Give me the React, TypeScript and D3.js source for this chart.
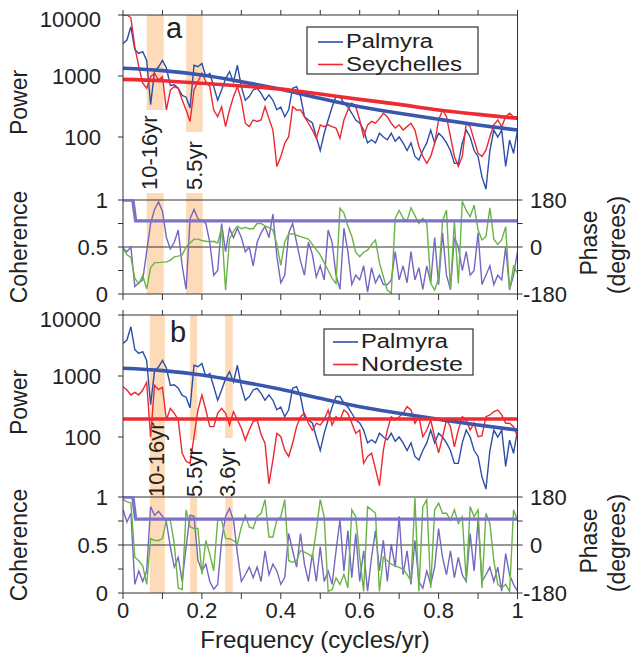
import React from 'react';
import * as d3 from 'd3';

// frequency grid of the spectra (cycles/yr)
const freq = d3.range(0, 101).map((i) => i / 100);
const fitFreq = [0, 0.1, 0.2, 0.3, 0.4, 0.5, 0.6, 0.7, 0.8, 0.9, 1.0];
const flatFitFreq = [0, 1];

// power spectra
const palmyraPower = [
  3430, 3890, 6400, 2700, 2350, 2500, 1800, 340, 1200, 1400,
  1800, 1350, 700, 720, 630, 480, 450, 300, 1500, 1420,
  1600, 975, 1100, 670, 400, 590, 900, 1180, 800, 1500,
  670, 400, 460, 590, 630, 520, 400, 490, 400, 280,
  310, 215, 280, 630, 670, 460, 215, 190, 170, 100,
  60, 115, 190, 310, 460, 460, 360, 310, 245, 190,
  170, 130, 80, 90, 80, 115, 100, 90, 115, 85,
  100, 80, 60, 80, 48, 42, 60, 80, 130, 80,
  115, 100, 80, 60, 37, 37, 80, 130, 100, 60,
  48, 22, 14, 60, 130, 100, 130, 33, 89, 54,
  130,
];
const seychellesPower = [
  10000, 10000, 9000, 3000, 1420, 760, 630, 975, 1110, 860,
  975, 277, 589, 670, 630, 405, 277, 180, 590, 810,
  1110, 810, 670, 277, 215, 314, 148, 277, 459, 670,
  405, 168, 148, 190, 180, 190, 314, 200, 130, 33,
  48, 79, 101, 314, 277, 277, 215, 168, 130, 95,
  158, 148, 158, 148, 140, 95, 190, 277, 360, 314,
  190, 101, 158, 180, 168, 200, 245, 215, 168, 140,
  158, 130, 148, 168, 130, 70, 48, 37, 48, 79,
  190, 277, 215, 101, 48, 33, 48, 168, 148, 89,
  54, 48, 61, 101, 158, 190, 148, 215, 245, 215,
  215,
];
const nordestePower = [
  668, 589, 489, 540, 489, 589, 790, 100, 700, 600,
  650, 190, 295, 245, 190, 54, 40, 37, 101, 277,
  489, 277, 148, 148, 245, 295, 245, 158, 260, 190,
  140, 89, 130, 180, 190, 110, 79, 17, 42, 115,
  101, 61, 48, 79, 148, 215, 245, 168, 130, 168,
  158, 190, 277, 158, 215, 190, 277, 245, 168, 115,
  130, 37, 48, 54, 30, 16, 61, 130, 215, 190,
  215, 245, 314, 277, 168, 215, 101, 130, 190, 100,
  55, 100, 190, 148, 69, 130, 215, 190, 130, 168,
  101, 105, 215, 230, 260, 277, 230, 168, 168, 148,
  101,
];

// smooth fits
const palmyraFit = [1337, 1223, 1038, 807, 604, 431, 314, 245, 195, 157, 130];
const seychellesFit = [881, 838, 760, 686, 612, 507, 414, 343, 277, 235, 202];
const nordesteFit = [197, 197];

// coherence and phase
const coherenceA = [
  0.49, 0.45, 0.5, 0.08, 0.12, 0.15, 0.45, 0.75, 0.9, 0.98,
  0.88, 0.6, 0.48, 0.55, 0.68, 0.3, 0.05, 0.8, 0.9, 0.8,
  0.78, 0.75, 0.55, 0.2, 0.25, 0.75, 0.45, 0.7, 0.6, 0.7,
  0.6, 0.45, 0.5, 0.3, 0.55, 0.65, 0.72, 0.6, 0.85, 0.4,
  0.12, 0.2, 0.65, 0.75, 0.55, 0.35, 0.2, 0.55, 0.42, 0.18,
  0.3, 0.15, 0.68, 0.55, 0.2, 0.05, 0.7, 0.45, 0.1, 0.2,
  0.15, 0.3, 0.02, 0.28, 0.12, 0.2, 0.1, 0.1, 0.15, 0.45,
  0.15, 0.3, 0.12, 0.45, 0.15, 0.28, 0.05, 0.3, 0.12, 0.6,
  0.1, 0.65, 0.2, 0.05, 0.6, 0.5, 0.25, 0.45, 0.2, 0.25,
  0.65, 0.1, 0.2, 0.3, 0.1, 0.2, 0.15, 0.5, 0.05, 0.2,
  0.45,
];
const phaseA = [
  -5, -30, -40, -120, -140, -110, -160, -80, -60, -60,
  -58, -58, -50, -38, -35, -30, 0, 15, 30, 30,
  25, 22, 20, 22, 15, 75, -165, 30, 60, 80,
  70, 75, 70, 70, 90, 90, 80, 75, 65, 10,
  -70, 20, 50, 50, 45, 40, 35, 30, 10, -10,
  -30, -60, -90, -120, -140, 148, 130, 80, 40, -20,
  -37, -20, -12, 10, 27, -60, -114, -165, -177, 110,
  140, 110, 100, 150, 120, 90, 110, 91, -139, -165,
  -120, 100, 142, -165, 100, -140, 175, 140, 116, 160,
  65, 27, 40, 150, 30, 10, 27, 78, -165, -75,
  -100,
];
const coherenceB = [
  0.87, 0.74, 0.83, 0.09, 0.23, 0.12, 0.23, 0.9, 0.81, 0.85,
  0.8, 0.74, 0.48, 0.27, 0.37, 0.12, 0.48, 0.81, 0.8, 0.34,
  0.23, 0.3, 0.12, 0.04, 0.09, 0.55, 0.8, 0.88, 0.76, 0.41,
  0.12, 0.19, 0.27, 0.16, 0.27, 0.12, 0.44, 0.19, 0.3, 0.23,
  0.09, 0.16, 0.62, 0.44, 0.27, 0.62, 0.3, 0.12, 0.41, 0.12,
  0.48, 0.12, 0.23, 0.09, 0.44, 0.76, 0.23, 0.65, 0.16, 0.62,
  0.12, 0.44, 0.02, 0.37, 0.65, 0.23, 0.55, 0.12, 0.51, 0.27,
  0.8, 0.19, 0.44, 0.09, 0.55, 0.12, 0.05, 0.23, 0.09, 0.27,
  0.67, 0.37, 0.19, 0.44, 0.16, 0.37, 0.19, 0.12, 0.62, 0.23,
  0.76, 0.12, 0.19, 0.27, 0.12, 0.27, 0.02, 0.41, 0.19, 0.09,
  0.02,
];
const phaseB = [
  170, 163, 157, -46, -59, -78, -148, 24, 17, 17,
  24, 93, 93, 4, -161, -167, 132, 68, 62, 62,
  -110, 17, -34, -97, 93, 93, 24, 24, 17, 4,
  68, 112, 68, 62, 106, 119, 170, 30, 30, 93,
  106, 170, -59, -65, -59, -21, -27, -34, -46, 55,
  170, 106, -174, -167, -123, -148, -110, -161, 132, 106,
  -46, -174, 144, 132, 119, -174, -46, -59, -72, -78,
  -84, -91, -110, -135, 176, -174, 144, 170, -161, 132,
  157, 119, 119, 93, 132, 81, 106, -135, 144, 106,
  132, -161, 119, 81, -59, -148, -161, -148, -174, 132,
  93,
];

// 95% significance level of coherence
const sigFreq = [0, 0.025, 0.032, 1];
const sigA = [1, 1, 0.778, 0.778];
const sigB = [1, 1, 0.77, 0.77];

// highlighted period bands (cycles/yr)
const bandStartA = [0.06, 0.16];
const bandEndA = [0.103, 0.202];
const bandLabelsA = ['10-16yr', '5.5yr'];
const bandStartB = [0.068, 0.17, 0.259];
const bandEndB = [0.106, 0.188, 0.278];
const bandLabelsB = ['10-16yr', '5.5yr', '3.6yr'];

const FONT = "'Liberation Sans', Arial, Helvetica, sans-serif";
const BLUE = '#2d4ea8';
const RED = '#ec2830';
const PURPLE = '#7467c0';
const GREEN = '#6ab446';
const BAND = '#fddbb9';
const AXIS = '#333';

const x = d3.scaleLinear().domain([0, 1]).range([123, 517.5]);

const Panel = ({ id, pTop, pBot, cTop, cBot, spectra, fits, names, legend, letter, coh, phase, sig, bands, labels }) => {
  const yP = d3.scaleLog().domain([10, 10000]).range([pBot, pTop]);
  const yC = d3.scaleLinear().domain([0, 1]).range([cBot, cTop]);
  const yPh = d3.scaleLinear().domain([-180, 180]).range([cBot, cTop]);
  const x0 = x(0);
  const x1 = x(1);

  const powerLine = d3
    .line<number>()
    .x((_, i) => x(freq[i]))
    .y((d) => yP(d));
  const cohLine = d3
    .line<number>()
    .x((_, i) => x(freq[i]))
    .y((d) => yC(d));
  const phaseLine = d3
    .line<number>()
    .x((_, i) => x(freq[i]))
    .y((d) => yPh(d));

  const xTicks = x.ticks(10);

  return (
    <g>
      <defs>
        <clipPath id={`${id}-p`}>
          <rect x={x0} y={pTop} width={x1 - x0} height={cTop - pTop} />
        </clipPath>
        <clipPath id={`${id}-c`}>
          <rect x={x0} y={cTop - 1} width={x1 - x0} height={cBot - cTop + 2} />
        </clipPath>
      </defs>

      {/* bands */}
      {bands.map((b, i) => {
        const bx = x(b.f0);
        const bw = x(b.f1) - x(b.f0);
        return b.gap ? (
          <g key={i}>
            <rect x={bx} y={pTop} width={bw} height={b.gap[0] - pTop} fill={BAND} />
            <rect x={bx} y={b.gap[1]} width={bw} height={cBot - b.gap[1]} fill={BAND} />
          </g>
        ) : (
          <rect key={i} x={bx} y={pTop} width={bw} height={cBot - pTop} fill={BAND} />
        );
      })}

      {/* coherence grid */}
      <line x1={x0} x2={x1} y1={yC(1)} y2={yC(1)} stroke={AXIS} strokeWidth={1} />
      <line x1={x0} x2={x1} y1={yC(0.5)} y2={yC(0.5)} stroke={AXIS} strokeWidth={1} />

      {/* power spectra */}
      <g clipPath={`url(#${id}-p)`} fill="none">
        <path d={powerLine(spectra[0])} stroke={BLUE} strokeWidth={1.4} />
        <path d={powerLine(spectra[1])} stroke={RED} strokeWidth={1.4} />
        {fits.map((f, i) => (
          <path
            key={i}
            d={d3
              .line<number>()
              .x((_, j) => x(f.freq[j]))
              .y((d) => yP(d))
              .curve(d3.curveMonotoneX)(f.values)}
            stroke={i === 0 ? '#3957ad' : '#ee2b33'}
            strokeWidth={3.6}
          />
        ))}
      </g>

      {/* coherence and phase */}
      <g clipPath={`url(#${id}-c)`} fill="none">
        <path d={cohLine(coh)} stroke={PURPLE} strokeWidth={1.4} />
        <path d={phaseLine(phase)} stroke={GREEN} strokeWidth={1.4} />
        <path
          d={d3
            .line<number>()
            .x((_, j) => x(sigFreq[j]))
            .y((d) => yC(d))(sig)}
          stroke="#7c72c6"
          strokeWidth={3.4}
        />
      </g>

      {/* frame */}
      <line x1={x0} x2={x1} y1={pTop} y2={pTop} stroke={AXIS} strokeWidth={1} />
      <line x1={x0} x2={x1} y1={cBot} y2={cBot} stroke={AXIS} strokeWidth={1} />
      <line x1={x0} x2={x0} y1={pTop} y2={cBot} stroke={AXIS} strokeWidth={1} />
      <line x1={x1} x2={x1} y1={pTop} y2={cBot} stroke={AXIS} strokeWidth={1} />

      {xTicks.map((t) => (
        <g key={t}>
          <line x1={x(t)} x2={x(t)} y1={pTop - 5} y2={pTop} stroke={AXIS} />
          <line x1={x(t)} x2={x(t)} y1={cBot} y2={cBot + 6} stroke={AXIS} />
        </g>
      ))}

      {/* left axis: power */}
      {[100, 1000, 10000].map((v) => (
        <g key={v}>
          <line x1={x0 - 5} x2={x0} y1={yP(v)} y2={yP(v)} stroke={AXIS} />
          <text
            x={101}
            y={yP(v) + (v === 10000 ? 12 : 8)}
            textAnchor="end"
            fontSize={22}
            fontFamily={FONT}
            fill="#222"
          >
            {v}
          </text>
        </g>
      ))}

      {/* left axis: coherence */}
      {[0, 0.25, 0.5, 0.75, 1].map((v) => (
        <line key={v} x1={x0 - 5} x2={x0} y1={yC(v)} y2={yC(v)} stroke={AXIS} />
      ))}
      {[0, 0.5, 1].map((v) => (
        <text key={v} x={108} y={yC(v) + 8} textAnchor="end" fontSize={22} fontFamily={FONT} fill="#222">
          {v}
        </text>
      ))}

      {/* right axis: phase */}
      {[-180, -90, 0, 90, 180].map((v) => (
        <line key={v} x1={x1} x2={x1 + 5} y1={yPh(v)} y2={yPh(v)} stroke={AXIS} />
      ))}
      {[-180, 0, 180].map((v) => (
        <text
          key={v}
          x={v < 0 ? 523 : 530}
          y={yPh(v) + 8}
          fontSize={22}
          fontFamily={FONT}
          fill="#222"
        >
          {v}
        </text>
      ))}

      {/* axis titles */}
      <text
        transform={`translate(27,${(pTop + pBot) / 2 - 4}) rotate(-90)`}
        textAnchor="middle"
        fontSize={23}
        fontFamily={FONT}
        fill="#222"
      >
        Power
      </text>
      <text
        transform={`translate(27,${(cTop + cBot) / 2}) rotate(-90)`}
        textAnchor="middle"
        fontSize={23}
        fontFamily={FONT}
        fill="#222"
      >
        Coherence
      </text>
      <text
        transform={`translate(597,${(cTop + cBot) / 2 - 4}) rotate(-90)`}
        textAnchor="middle"
        fontSize={23}
        fontFamily={FONT}
        fill="#222"
      >
        Phase
      </text>
      <text
        transform={`translate(625,${(cTop + cBot) / 2 - 2}) rotate(-90)`}
        textAnchor="middle"
        fontSize={23}
        fontFamily={FONT}
        fill="#222"
      >
        (degrees)
      </text>

      {/* band labels */}
      {labels.map((l, i) => (
        <text
          key={i}
          transform={`translate(${x(l.f)},${l.y}) rotate(-90)`}
          fontSize={22}
          fontFamily={FONT}
          fill="#222"
        >
          {l.text}
        </text>
      ))}

      {/* panel letter */}
      <text x={letter.x} y={letter.y} fontSize={29} fontFamily={FONT} fill="#222">
        {letter.text}
      </text>

      {/* legend */}
      <rect
        x={legend.x}
        y={legend.y}
        width={legend.w}
        height={legend.h}
        fill="#fff"
        stroke={AXIS}
        strokeWidth={1.2}
      />
      {names.map((n, i) => (
        <g key={n}>
          <line
            x1={legend.lx}
            x2={legend.lx + 25}
            y1={legend.ly + i * 22.5}
            y2={legend.ly + i * 22.5}
            stroke={i === 0 ? BLUE : RED}
            strokeWidth={1.6}
          />
          <text
            x={legend.tx}
            y={legend.ty + i * 22.5}
            fontSize={20}
            textLength={legend.tw[i]}
            lengthAdjust="spacingAndGlyphs"
            fontFamily={FONT}
            fill="#222"
          >
            {n}
          </text>
        </g>
      ))}
    </g>
  );
};

const App = () => {
  const bandsA = bandStartA.map((f0, i) => ({
    f0,
    f1: bandEndA[i],
    gap: i === 0 ? [110, 193] : [132, 193],
  }));
  const bandsB = bandStartB.map((f0, i) => ({
    f0,
    f1: bandEndB[i],
    gap: i === 0 ? null : i === 1 ? [440, 497] : [438, 497],
  }));
  const labelFA = [0.085, 0.199];
  const labelFB = [0.103, 0.199, 0.283];

  return (
    <svg
      width={631}
      height={656}
      style={{ position: 'absolute', left: 0, top: 0, background: '#fff' }}
    >
      <Panel
        id="a"
        pTop={15}
        pBot={198}
        cTop={200}
        cBot={294}
        spectra={[palmyraPower, seychellesPower]}
        fits={[
          { freq: fitFreq, values: palmyraFit },
          { freq: fitFreq, values: seychellesFit },
        ]}
        names={['Palmyra', 'Seychelles']}
        legend={{ x: 307, y: 27, w: 171, h: 47, lx: 318, ly: 42, tx: 346, ty: 48, tw: [87, 116] }}
        letter={{ text: 'a', x: 166, y: 38 }}
        coh={coherenceA}
        phase={phaseA}
        sig={sigA}
        bands={bandsA}
        labels={bandLabelsA.map((text, i) => ({ text, f: labelFA[i], y: 190 }))}
      />
      <Panel
        id="b"
        pTop={315}
        pBot={498}
        cTop={497}
        cBot={593}
        spectra={[palmyraPower, nordestePower]}
        fits={[
          { freq: fitFreq, values: palmyraFit },
          { freq: flatFitFreq, values: nordesteFit },
        ]}
        names={['Palmyra', 'Nordeste']}
        legend={{ x: 324, y: 329, w: 149, h: 46, lx: 333, ly: 342, tx: 361, ty: 348, tw: [87, 102] }}
        letter={{ text: 'b', x: 170, y: 342 }}
        coh={coherenceB}
        phase={phaseB}
        sig={sigB}
        bands={bandsB}
        labels={bandLabelsB.map((text, i) => ({ text, f: labelFB[i], y: 497 }))}
      />

      {/* frequency axis */}
      {[0, 0.2, 0.4, 0.6, 0.8, 1].map((t) => (
        <text key={t} x={x(t)} y={618} textAnchor="middle" fontSize={22} fontFamily={FONT} fill="#222">
          {t}
        </text>
      ))}
      <text x={315} y={648} textAnchor="middle" fontSize={24} fontFamily={FONT} fill="#222">
        Frequency (cycles/yr)
      </text>
    </svg>
  );
};

export default App;
